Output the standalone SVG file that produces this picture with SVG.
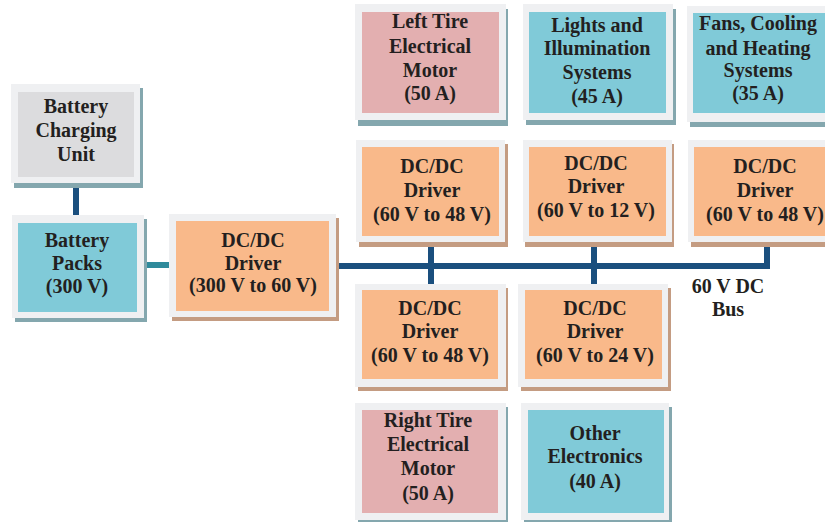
<svg xmlns="http://www.w3.org/2000/svg" width="825" height="522" viewBox="0 0 825 522">
<style>
.frame{fill:#eff0f2}
.sh-b{fill:#84a7ae}
.sh-o{fill:#c49c82}
.orange{fill:#f9b98a}
.teal{fill:#80cad8}
.pink{fill:#e3afb0}
.grey{fill:#dcdcde}
text{font-family:"Liberation Serif","Times New Roman",serif;font-weight:bold;font-size:20px;fill:#231f20;text-anchor:middle}
.bus{stroke:#1a4f7e;stroke-width:6;fill:none}
.tl{stroke:#2f8a9b;stroke-width:6;fill:none}
</style>
<rect width="825" height="522" fill="#ffffff"/>
<g id="connectors">
<line class="bus" x1="76" y1="183" x2="76" y2="215"/>
<line class="tl" x1="144" y1="265" x2="170" y2="265"/>
<polyline class="bus" points="336,266 767,266 767,242"/>
<line class="bus" x1="431" y1="242" x2="431" y2="284"/>
<line class="bus" x1="594" y1="242" x2="594" y2="284"/>
</g>
<g id="battery-charging-unit">
<rect class="sh-b" x="14" y="88" width="129" height="100"/>
<rect class="frame" x="11" y="84" width="129" height="99"/>
<rect class="grey" x="18" y="92" width="116" height="85"/>
<text x="76" y="113">Battery</text><text x="76" y="137">Charging</text><text x="76" y="161">Unit</text>
</g>
<g id="battery-packs">
<rect class="sh-b" x="15" y="219" width="132" height="103"/>
<rect class="frame" x="12" y="215" width="132" height="103"/>
<rect class="teal" x="18" y="223" width="119" height="89"/>
<text x="77" y="247">Battery</text><text x="77" y="270">Packs</text><text x="77" y="293">(300 V)</text>
</g>
<g id="dcdc-300-60">
<rect class="sh-o" x="172" y="218" width="167" height="103"/>
<rect class="frame" x="169" y="214" width="167" height="103"/>
<rect class="orange" x="176" y="221" width="153" height="90"/>
<text x="253" y="247">DC/DC</text><text x="253" y="270">Driver</text><text x="253" y="292">(300 V to 60 V)</text>
</g>
<g id="left-tire-motor">
<rect class="sh-b" x="358" y="9" width="150" height="117"/>
<rect class="frame" x="355" y="4" width="151" height="116"/>
<rect class="pink" x="362" y="12" width="137" height="101"/>
<text x="430" y="28">Left Tire</text><text x="430" y="53">Electrical</text><text x="430" y="77">Motor</text><text x="430" y="100">(50 A)</text>
</g>
<g id="lights">
<rect class="sh-b" x="526" y="9" width="150" height="116"/>
<rect class="frame" x="523" y="4" width="150" height="116"/>
<rect class="teal" x="529" y="12" width="137" height="101"/>
<text x="597" y="32">Lights and</text><text x="597" y="55">Illumination</text><text x="597" y="79">Systems</text><text x="597" y="103">(45 A)</text>
</g>
<g id="fans-cooling-heating">
<rect class="sh-b" x="690" y="10" width="140" height="117"/>
<rect class="frame" x="687" y="6" width="140" height="116"/>
<rect class="teal" x="693" y="13" width="140" height="100"/>
<text x="758" y="30">Fans, Cooling</text><text x="758" y="55">and Heating</text><text x="758" y="77">Systems</text><text x="758" y="100">(35 A)</text>
</g>
<g id="dcdc-60-48-top">
<rect class="sh-o" x="359" y="144" width="149" height="103"/>
<rect class="frame" x="356" y="140" width="149" height="102"/>
<rect class="orange" x="362" y="147" width="137" height="89"/>
<text x="432" y="173">DC/DC</text><text x="432" y="197">Driver</text><text x="432" y="221">(60 V to 48 V)</text>
</g>
<g id="dcdc-60-12">
<rect class="sh-o" x="525" y="144" width="149" height="103"/>
<rect class="frame" x="523" y="140" width="149" height="102"/>
<rect class="orange" x="529" y="147" width="137" height="89"/>
<text x="596" y="170">DC/DC</text><text x="596" y="193">Driver</text><text x="596" y="217">(60 V to 12 V)</text>
</g>
<g id="dcdc-60-48-right">
<rect class="sh-o" x="691" y="144" width="140" height="103"/>
<rect class="frame" x="688" y="140" width="140" height="102"/>
<rect class="orange" x="694" y="147" width="140" height="89"/>
<text x="765" y="173">DC/DC</text><text x="765" y="197">Driver</text><text x="765" y="221">(60 V to 48 V)</text>
</g>
<g id="bus-label">
<text x="728" y="293">60 V DC</text><text x="728" y="316">Bus</text>
</g>
<g id="dcdc-60-48-bottom">
<rect class="sh-o" x="358" y="288" width="150" height="103"/>
<rect class="frame" x="355" y="284" width="151" height="103"/>
<rect class="orange" x="362" y="290" width="136" height="89"/>
<text x="430" y="315">DC/DC</text><text x="430" y="338">Driver</text><text x="430" y="362">(60 V to 48 V)</text>
</g>
<g id="dcdc-60-24">
<rect class="sh-o" x="521" y="288" width="150" height="103"/>
<rect class="frame" x="518" y="284" width="150" height="103"/>
<rect class="orange" x="525" y="290" width="137" height="89"/>
<text x="595" y="315">DC/DC</text><text x="595" y="338">Driver</text><text x="595" y="362">(60 V to 24 V)</text>
</g>
<g id="right-tire-motor">
<rect class="sh-b" x="358" y="407" width="150" height="118"/>
<rect class="frame" x="355" y="403" width="151" height="117"/>
<rect class="pink" x="362" y="410" width="136" height="103"/>
<text x="428" y="427">Right Tire</text><text x="428" y="451">Electrical</text><text x="428" y="475">Motor</text><text x="428" y="500">(50 A)</text>
</g>
<g id="other-electronics">
<rect class="sh-b" x="524" y="407" width="148" height="118"/>
<rect class="frame" x="521" y="403" width="148" height="117"/>
<rect class="teal" x="528" y="410" width="136" height="103"/>
<text x="595" y="440">Other</text><text x="595" y="463">Electronics</text><text x="595" y="488">(40 A)</text>
</g>
</svg>
